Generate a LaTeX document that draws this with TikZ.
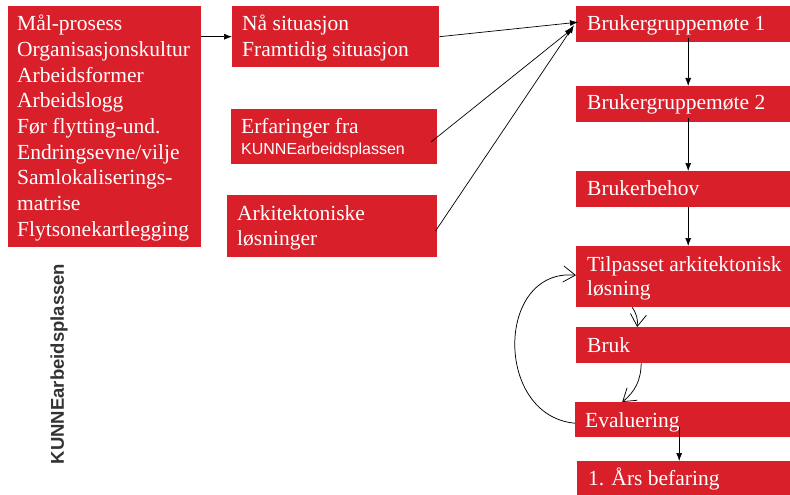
\documentclass[tikz,border=0pt]{standalone}
\usepackage{fontspec}
\setmainfont{Liberation Serif}
\newfontfamily\arialf{Liberation Sans}
\usetikzlibrary{arrows.meta}
\definecolor{boxred}{RGB}{216,31,42}
\begin{document}
\begin{tikzpicture}[x=1pt,y=-1pt,
  box/.style={fill=boxred, draw=none, inner sep=0pt, anchor=north west},
  txt/.style={text=white, inner sep=0pt, anchor=base west,
    font=\fontsize{21.5}{25.7}\selectfont},
  solidarrow/.style={-{Latex[length=8pt,width=6pt]}, line width=0.7pt},
  openarrow/.style={-{Straight Barb[length=12pt,width=16pt]}, line width=0.75pt}]
\useasboundingbox (0,0) rectangle (790,495);

% boxes
\node[box, minimum width=193pt, minimum height=241pt] (L)  at (8,6)   {};
\node[box, minimum width=207pt, minimum height=61pt]  (N)  at (232,6) {};
\node[box, minimum width=206pt, minimum height=55pt]  (E)  at (231,109) {};
\node[box, minimum width=210pt, minimum height=62pt]  (A)  at (227,195) {};
\node[box, minimum width=214pt, minimum height=36pt]  (B1) at (576,6)   {};
\node[box, minimum width=214pt, minimum height=36pt]  (B2) at (576,86)  {};
\node[box, minimum width=214pt, minimum height=36pt]  (BB) at (576,171) {};
\node[box, minimum width=214pt, minimum height=61pt]  (T)  at (576,246) {};
\node[box, minimum width=214pt, minimum height=36pt]  (Br) at (576,327) {};
\node[box, minimum width=215pt, minimum height=35pt]  (Ev) at (575,402) {};
\node[box, minimum width=213pt, minimum height=34pt]  (Ar) at (577,461) {};

% box texts
\node[txt] (tL) at (17,30.7) {\parbox[t]{185pt}{Mål-prosess\\Organisasjonskultur\\Arbeidsformer\\Arbeidslogg\\Før flytting-und.\\Endringsevne/vilje\\Samlokaliserings-\\matrise\\Flytsonekartlegging}};
\node[txt] (tN) at (242,31) {\parbox[t]{195pt}{Nå situasjon\\Framtidig situasjon}};
\node[txt] (tE) at (241,133) {\parbox[t]{195pt}{Erfaringer fra\\[-4.7pt]{\arialf\fontsize{16}{19}\selectfont KUNNEarbeidsplassen}}};
\node[txt] (tA) at (237,220) {\parbox[t]{195pt}{Arkitektoniske\\[-0.7pt]løsninger}};
\node[txt] (tB1) at (587,31)  {Brukergruppemøte 1};
\node[txt] (tB2) at (587,110) {Brukergruppemøte 2};
\node[txt] (tBB) at (587,195) {Brukerbehov};
\node[txt] (tT)  at (587,271) {\parbox[t]{200pt}{Tilpasset arkitektonisk\\[-1.7pt]løsning}};
\node[txt] (tBr) at (587,352) {Bruk};
\node[txt] (tEv) at (585,427) {Evaluering};
\node[txt] (tAr) at (588,485) {1. Års befaring};

% side label
\node[rotate=90, inner sep=0pt, text=black!80,
  font=\arialf\bfseries\fontsize{18.5}{22}\selectfont] (side) at (59,364) {KUNNEarbeidsplassen};

% connectors
\draw[solidarrow] (L.east |- N.west) -- (N.west);
\draw[solidarrow] (N.east) -- ([xshift=2pt,yshift=2pt]B1.west);
\draw[solidarrow] ([xshift=-6pt,yshift=-5pt]E.east) -- ([xshift=-3pt,yshift=-4pt]B1.west);
\draw[solidarrow] ([xshift=-2pt,yshift=-5pt]A.east) -- ([xshift=-2pt,yshift=-1pt]B1.west);
\draw[solidarrow] ([xshift=5pt,yshift=4pt]B1.south) -- ([xshift=5pt]B2.north);
\draw[solidarrow] ([xshift=5pt,yshift=4pt]B2.south) -- ([xshift=5pt]BB.north);
\draw[solidarrow] ([xshift=5pt]BB.south) -- ([xshift=5pt]T.north);
\draw[solidarrow] ([xshift=-3.5pt,yshift=10pt]Ev.south) -- ([xshift=-4.5pt]Ar.north);
\draw[openarrow] ([xshift=-51pt]T.south) to[bend left=20] ([xshift=-46pt]Br.north);
\draw[openarrow] ([xshift=-42pt]Br.south) to[bend left=25] ([xshift=-60.5pt]Ev.north);
\draw[openarrow] ([yshift=-3.5pt]Ev.west) to[out=175,in=175,looseness=1.4] ([yshift=1.5pt]T.west);
\end{tikzpicture}
\end{document}
